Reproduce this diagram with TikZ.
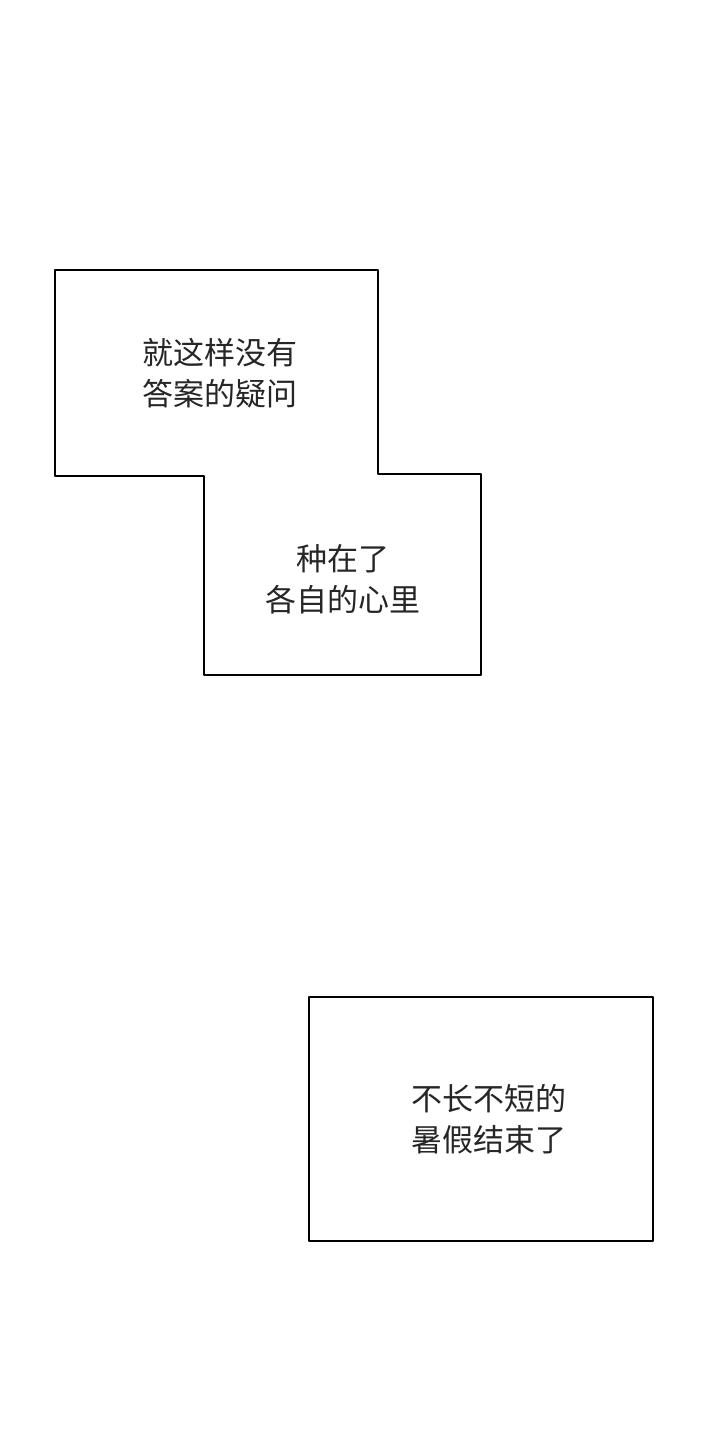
\documentclass[tikz,border=0pt]{standalone}
\usepackage{fontspec}
\newfontfamily\cjk{Noto Sans CJK SC}
\tikzset{
  panel/.style={draw=black,line width=2pt,line join=round},
  caption/.style={font=\cjk\fontsize{31}{41}\selectfont,align=center,text=black!85}
}
\begin{document}
\begin{tikzpicture}[x=1pt,y=-1pt]
\useasboundingbox[fill=white] (0,0) rectangle (720,1440);
%Rahmen oben (zwei Kästen, zusammenhängend)
	\draw[panel] (55,270) -- (378,270) -- (378,474) -- (481,474)
	  -- (481,675) -- (204,675) -- (204,476) -- (55,476) -- cycle;
%Rahmen unten
	\draw[panel] (309,997) rectangle (653,1241);
%Texte
	\node[caption] (frage) at (220,373) {就这样没有\\答案的疑问};
	\node[caption] (herz) at (343,579) {种在了\\各自的心里};
	\node[caption] (ferien) at (489,1119) {不长不短的\\暑假结束了};
\end{tikzpicture}
\end{document}
